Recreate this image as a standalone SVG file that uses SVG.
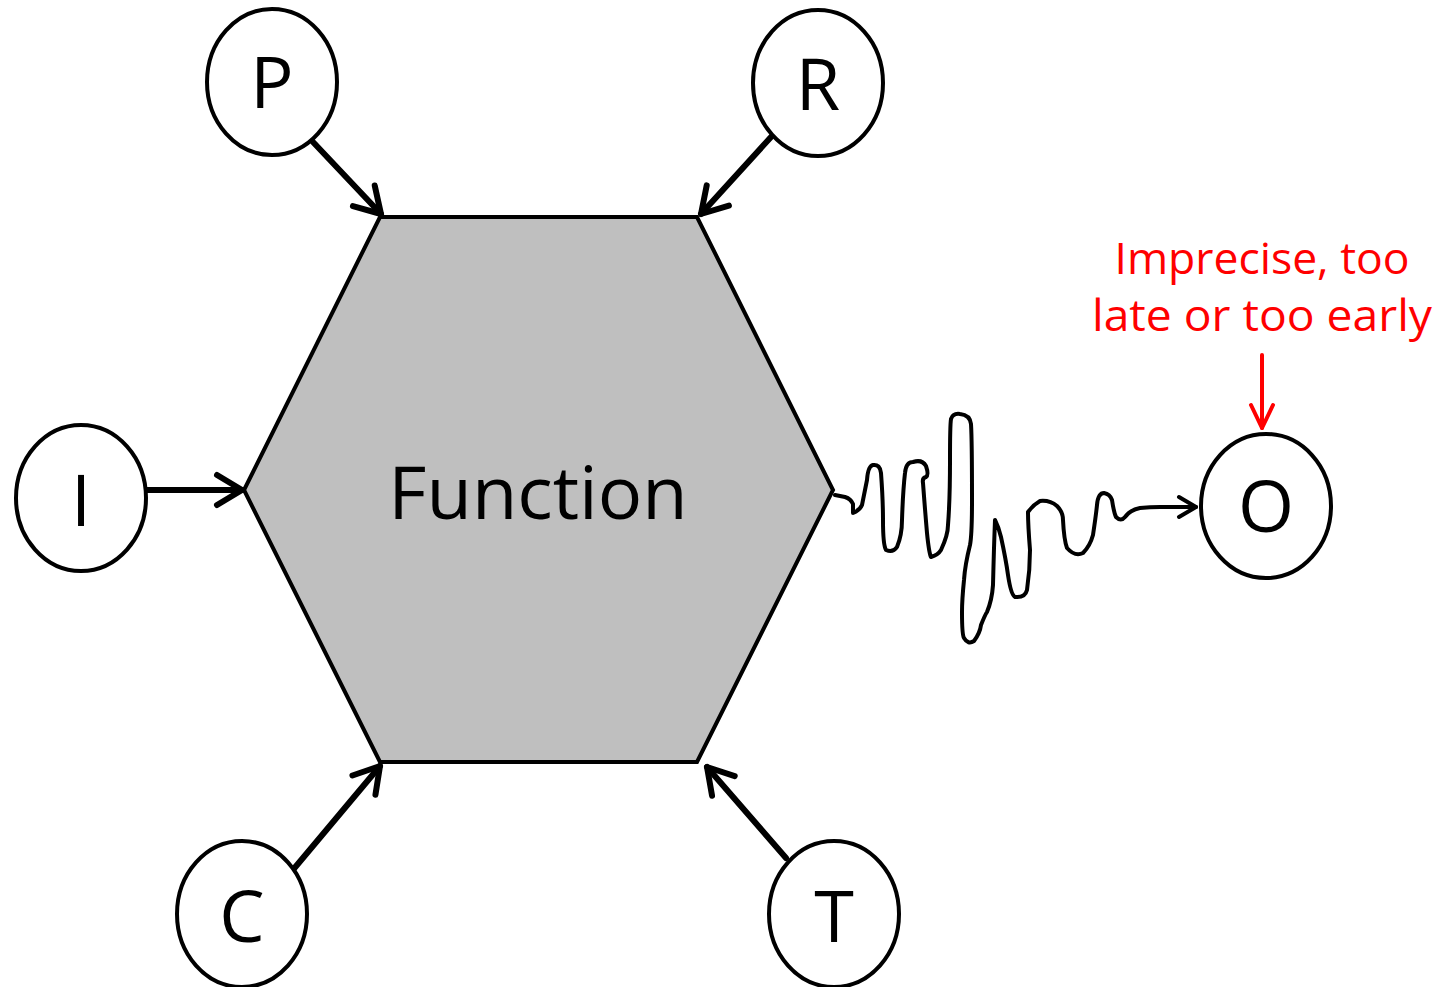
<svg xmlns="http://www.w3.org/2000/svg" width="1444" height="987" viewBox="0 0 1444 987">
<style>
.node ellipse{fill:#fff;stroke:#000;stroke-width:4}
.lbl{font-family:"Open Sans","Liberation Sans",sans-serif;font-size:72px;fill:#000;text-anchor:middle}
.conn{fill:none;stroke:#000;stroke-width:6;stroke-linecap:round}
.red{font-family:"Open Sans","Liberation Sans",sans-serif;font-size:43px;fill:#ff0000;text-anchor:middle}
</style>
<defs>
<marker id="ah" markerUnits="userSpaceOnUse" markerWidth="60" markerHeight="60" viewBox="-30 -30 60 60" refX="0" refY="0" orient="auto" overflow="visible">
<path d="M-25,-15 L0,0 L-25,15" fill="none" stroke="#000" stroke-width="6" stroke-linecap="round" stroke-linejoin="round"/>
</marker>
<marker id="ahs" markerUnits="userSpaceOnUse" markerWidth="60" markerHeight="60" viewBox="-30 -30 60 60" refX="0" refY="0" orient="auto" overflow="visible">
<path d="M-17,-10 L0,0 L-17,10" fill="none" stroke="#000" stroke-width="4" stroke-linecap="round" stroke-linejoin="round"/>
</marker>
<marker id="ahr" markerUnits="userSpaceOnUse" markerWidth="60" markerHeight="60" viewBox="-30 -30 60 60" refX="0" refY="0" orient="auto" overflow="visible">
<path d="M-23,-11 L0,0 L-23,11" fill="none" stroke="#ff0000" stroke-width="4" stroke-linecap="round" stroke-linejoin="round"/>
</marker>
</defs>
<rect width="1444" height="987" fill="#fff"/>
<g id="function">
<polygon points="380,217 697,217 833,490 697,762 380,762 244,490" fill="#bfbfbf" stroke="#000" stroke-width="4" stroke-linejoin="miter"/>
<text class="lbl" x="538" y="519" style="font-size:74px">Function</text>
</g>
<g id="connectors">
<line class="conn" x1="313" y1="142" x2="381" y2="214" marker-end="url(#ah)"/>
<line class="conn" x1="771" y1="137" x2="701" y2="214" marker-end="url(#ah)"/>
<line class="conn" x1="147" y1="490" x2="242" y2="490" marker-end="url(#ah)"/>
<line class="conn" x1="292" y1="871" x2="380" y2="766" marker-end="url(#ah)"/>
<line class="conn" x1="786" y1="858" x2="707" y2="767" marker-end="url(#ah)"/>
<path fill="none" stroke="#000" stroke-width="4" stroke-linecap="round" stroke-linejoin="round" marker-end="url(#ahs)" d="M835,495 Q840,496 845,497 Q851,499 853,504 Q853,512 853,513 Q860,510 862,505 Q865,490 867,480 Q868,466 873,465 Q880,464 881,473 Q883,500 883,520 Q883,545 886,550 Q893,553 897,547 Q902,535 902,520 Q903,490 905,473 Q906,462 913,462 Q922,459 926,466 Q929,475 926,477 Q922,478 923,483 Q925,510 927,533 Q929,553 931,557 Q938,555 941,550 Q948,535 948,525 Q950,500 950,460 Q950,425 951,419 Q953,413 960,414 Q970,415 971,424 Q972,440 972,500 Q972,535 970,545 Q965,565 964,580 Q962,600 962,612 Q962,635 964,638 Q968,645 974,641 Q980,633 981,625 Q985,615 987,612 Q992,600 993,585 Q994,545 995,520 Q999,528 1001,537 Q1006,560 1008,575 Q1011,595 1015,597 Q1025,598 1027,590 Q1030,570 1030,550 Q1028,525 1028,512 Q1033,505 1040,501 Q1050,500 1057,506 Q1063,512 1063,520 Q1064,540 1067,548 Q1075,557 1083,553 Q1090,546 1093,535 Q1096,515 1097,505 Q1098,493 1104,493 Q1110,494 1112,500 Q1114,513 1116,517 Q1121,522 1125,517 Q1130,510 1140,508 Q1150,507 1160,507 L1196,507"/>
<line x1="1262" y1="355" x2="1262" y2="428" stroke="#ff0000" stroke-width="4" stroke-linecap="round" marker-end="url(#ahr)"/>
</g>
<g id="P" class="node"><ellipse cx="272" cy="82" rx="65" ry="73"/><text class="lbl" x="272" y="108">P</text></g>
<g id="R" class="node"><ellipse cx="818" cy="83" rx="65" ry="73"/><text class="lbl" x="818" y="110">R</text></g>
<g id="I" class="node"><ellipse cx="81" cy="498" rx="65" ry="73"/><text class="lbl" x="81" y="526">I</text></g>
<g id="C" class="node"><ellipse cx="242" cy="914" rx="65" ry="73"/><text class="lbl" x="242" y="942">C</text></g>
<g id="T" class="node"><ellipse cx="834" cy="914" rx="65" ry="73"/><text class="lbl" x="834" y="942">T</text></g>
<g id="O" class="node"><ellipse cx="1266" cy="506" rx="65" ry="72"/><text class="lbl" x="1266" y="532">O</text></g>
<g id="note">
<text class="red" x="1262" y="274" textLength="295" lengthAdjust="spacingAndGlyphs">Imprecise, too</text>
<text class="red" x="1262" y="331" textLength="340" lengthAdjust="spacingAndGlyphs">late or too early</text>
</g>
</svg>
